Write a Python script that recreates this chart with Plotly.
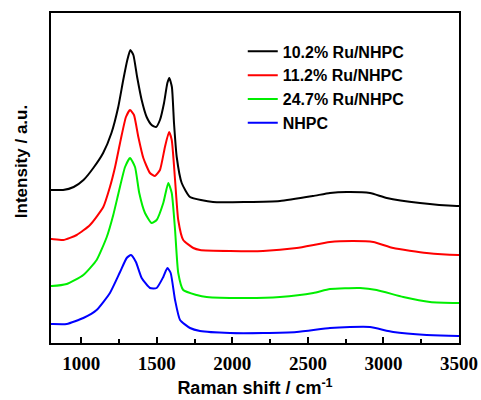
import plotly.graph_objects as go

# Raman shift (cm-1) and intensity (a.u., stacked offsets as in the figure)
x_black = [800, 815, 880, 950, 1015, 1080, 1145, 1200, 1245, 1278, 1305, 1325, 1345, 1370, 1400, 1433, 1466, 1495, 1521, 1548, 1570, 1583, 1600, 1614, 1632, 1665, 1720, 1872, 2095, 2315, 2534, 2646, 2757, 2911, 3022, 3242, 3485, 3500]
y_black = [153, 153, 153, 156, 163, 175, 190, 210, 236, 263, 283, 293, 288, 266, 243, 226, 218, 216, 223, 240, 260, 265, 256, 220, 186, 160, 146, 141, 141, 142, 147, 150, 151, 150, 145, 140, 137, 137]

x_red = [800, 805, 881, 970, 1058, 1146, 1190, 1224, 1261, 1296, 1323, 1349, 1378, 1411, 1455, 1488, 1521, 1554, 1581, 1599, 1621, 1642, 1675, 1742, 1786, 1985, 2203, 2426, 2646, 2800, 2933, 3065, 3286, 3495, 3500]
y_red = [104, 104, 103, 108, 118, 136, 156, 176, 203, 226, 233, 228, 206, 185, 170, 167, 173, 196, 211, 203, 163, 123, 103, 95, 93, 92, 92, 95, 101, 102, 101, 95, 90, 88, 88]

x_green = [800, 805, 904, 1014, 1102, 1169, 1212, 1250, 1290, 1323, 1356, 1384, 1422, 1466, 1499, 1543, 1576, 1599, 1621, 1642, 1675, 1764, 1830, 2095, 2315, 2536, 2646, 2845, 2955, 3131, 3308, 3495, 3500]
y_green = [57, 57, 59, 68, 83, 106, 128, 152, 176, 185, 176, 150, 130, 120, 123, 140, 160, 150, 113, 70, 53, 48, 46, 45, 46, 50, 54, 55, 53, 46, 41, 40, 40]

x_blue = [800, 805, 904, 1014, 1102, 1190, 1257, 1301, 1329, 1362, 1400, 1455, 1499, 1543, 1570, 1592, 1621, 1654, 1720, 1786, 1985, 2205, 2426, 2646, 2779, 2911, 3065, 3286, 3495, 3500]
y_blue = [19, 19, 19, 25, 33, 50, 71, 85, 88, 81, 65, 55, 55, 66, 75, 70, 43, 23, 15, 12, 10, 10, 11, 15, 16, 16, 11, 8, 7, 7]

tick_vals = [1000, 1500, 2000, 2500, 3000, 3500]
minor_vals = [1250, 1750, 2250, 2750, 3250]

names = ["10.2% Ru/NHPC", "11.2% Ru/NHPC", "24.7% Ru/NHPC", "NHPC"]
colors = ["#000000", "#ff0000", "#00ee00", "#0000ff"]
xs = [x_black, x_red, x_green, x_blue]
ys = [y_black, y_red, y_green, y_blue]

fig = go.Figure()
for xv, yv, nm, c in zip(xs, ys, names, colors):
    fig.add_trace(go.Scatter(x=xv, y=yv, mode="lines", name=nm,
                             line=dict(color=c, width=2, shape="spline", smoothing=0.5)))

fig.update_layout(
    width=481, height=400,
    margin=dict(l=51, r=22, t=13, b=57, autoexpand=False),
    plot_bgcolor="white", paper_bgcolor="white",
    showlegend=True,
    legend=dict(x=0.47, y=0.935, xanchor="left", yanchor="top",
                bgcolor="rgba(0,0,0,0)",
                font=dict(family="Liberation Sans", size=16, color="black", weight="bold"),
                itemwidth=30),
    annotations=[dict(text="<b>Intensity / a.u.</b>", xref="paper", yref="paper",
                      x=-0.0735, y=0.548, xanchor="center", yanchor="middle",
                      textangle=-90, showarrow=False,
                      font=dict(family="Liberation Sans", size=17, color="black"))],
)
fig.update_layout(xaxis=dict(
    range=[800, 3500], showgrid=False, zeroline=False, automargin=True,
    showline=True, linecolor="black", linewidth=2, mirror=True,
    ticks="inside", ticklen=6, tickwidth=1.5, tickcolor="black",
    tickmode="array", tickvals=tick_vals,
    ticktext=["<b>%d</b>" % v for v in tick_vals],
    minor=dict(tickvals=minor_vals, ticks="inside", ticklen=4, tickwidth=1.5, tickcolor="black"),
    tickfont=dict(family="Liberation Serif", size=19, color="black", weight="bold"),
    ticklabelstandoff=2,
    title=dict(text="<b>Raman shift / cm<sup>-1</sup></b>", standoff=9,
               font=dict(family="Liberation Sans", size=18, color="black")),
))
fig.update_yaxes(
    range=[0, 330], showgrid=False, zeroline=False, automargin=False,
    showline=True, linecolor="black", linewidth=2, mirror=True,
    showticklabels=False, ticks="",
)

fig.write_html("out.html")
